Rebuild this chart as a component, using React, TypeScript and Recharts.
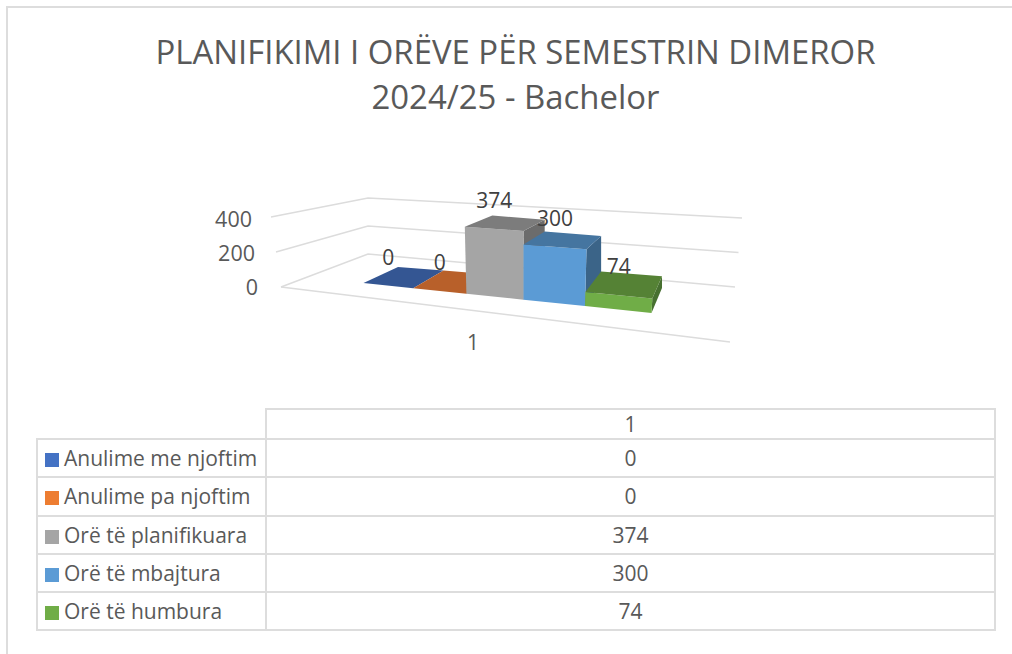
import React from 'react';
import { BarChart, Bar, XAxis, YAxis, CartesianGrid } from 'recharts';

const titleLines = ['PLANIFIKIMI I ORËVE PËR SEMESTRIN DIMEROR', '2024/25 - Bachelor'];
const categories = ['1'];
const seriesNames = ['Anulime me njoftim', 'Anulime pa njoftim', 'Orë të planifikuara', 'Orë të mbajtura', 'Orë të humbura'];
const seriesValues = [0, 0, 374, 300, 74];
const frontColors = ['#4472C4', '#ED7D31', '#A5A5A5', '#5B9BD5', '#70AD47'];
const topColors = ['#345693', '#B8602A', '#7C7C7C', '#4575A0', '#558235'];
const sideColors = ['#2A4779', '#964E20', '#6C6C6C', '#3B6488', '#477030'];
const axisTicks = [0, 200, 400];

const FONT = '"Open Sans", sans-serif';
const TEXT = '#595959';
const GRID = '#DCDCDC';

// flat plot box handed to Recharts; the scales' output is then projected to the 3D view
const PLOT = { left: 200, top: 100, width: 500, height: 400 };
const AXIS_MAX = 400;

const warp = (a: number) => a / (1 + 0.2 * (1 - a));
const lerp = (p: number, q: number, t: number) => p + (q - p) * t;

// a: 0..1 across the row of bars, depth: 0 front..1 back, frac: share of axis height
function project(a: number, depth: number, frac: number) {
  const w = warp(a);
  const fx = 363.5 + 288 * w;
  const fy = 283 + 30 * w;
  const bx = 398 + 264 * w;
  const by = 267 + 21 * w;
  const h = lerp(68 + 10 * w, 63, depth) * frac;
  const tilt = depth === 0 ? h * (w - 0.55) * 0.12 : 0;
  return [lerp(fx, bx, depth) + tilt, lerp(fy, by, depth) - h] as const;
}

const poly = (pts: ReadonlyArray<readonly [number, number]>) => pts.map((p) => `${p[0].toFixed(1)},${p[1].toFixed(1)}`).join(' ');

function makeShape(i: number) {
  return function Bar3D(props: any) {
    const { x, width, height, value } = props;
    const a1 = (x - PLOT.left) / PLOT.width;
    const a2 = (x + width - PLOT.left) / PLOT.width;
    const f = height / PLOT.height;
    const front = [project(a1, 0, f), project(a2, 0, f), project(a2, 0, 0), project(a1, 0, 0)];
    const top = [project(a1, 1, f), project(a2, 1, f), project(a2, 0, f), project(a1, 0, f)];
    const side = [project(a2, 0, f), project(a2, 1, f), project(a2, 1, 0), project(a2, 0, 0)];
    const lx = (front[0][0] + front[1][0]) / 2;
    const ly = (front[0][1] + front[1][1]) / 2 - 29;
    const v = Array.isArray(value) ? value[1] - value[0] : value;
    return (
      <g>
        <polygon points={poly(side)} fill={sideColors[i]} />
        <polygon points={poly(front)} fill={frontColors[i]} />
        <polygon points={poly(top)} fill={topColors[i]} />
        <text x={lx} y={ly} textAnchor="middle" dominantBaseline="central" fontFamily={FONT} fontSize={21} fill="#404040">{v}</text>
      </g>
    );
  };
}

const wallFront = (f: number) => [281 - 10 * f, 287 - 70 * f] as const;
const wallBack = (f: number) => [368, 254 - 56 * f] as const;
const wallRight = (f: number) => [735 + 7 * f, 287 - 69 * f] as const;
const floorFrontRight = [730, 342] as const;

function GridLine(props: any) {
  const f = (PLOT.top + PLOT.height - props.y1) / PLOT.height;
  const p1 = wallFront(f);
  const p2 = wallBack(f);
  const p3 = wallRight(f);
  return (
    <g key={props.key}>
      <polyline points={poly([p1, p2, p3])} fill="none" stroke={GRID} strokeWidth={1.5} />
      {f === 0 ? <polyline points={poly([p1, floorFrontRight])} fill="none" stroke={GRID} strokeWidth={1.5} /> : null}
    </g>
  );
}

function YTick(props: any) {
  const f = (PLOT.top + PLOT.height - props.y) / PLOT.height;
  const p = wallFront(f);
  return (
    <text x={p[0] - 23 + 4 * f} y={p[1] - 1 + 2 * f} textAnchor="end" dominantBaseline="central" fontFamily={FONT} fontSize={21.5} fill={TEXT}>
      {props.payload.value}
    </text>
  );
}

function XTick(props: any) {
  return (
    <text x={473} y={342} textAnchor="middle" dominantBaseline="central" fontFamily={FONT} fontSize={21} fill={TEXT}>
      {props.payload.value}
    </text>
  );
}

const chartData = categories.map((c) => {
  const row: Record<string, string | number> = { category: c };
  seriesNames.forEach((n, i) => { row[n] = seriesValues[i]; });
  return row;
});

const cell: React.CSSProperties = { border: '2px solid #DDDDDD', padding: 0, boxSizing: 'border-box', textAlign: 'center', verticalAlign: 'middle', lineHeight: '22px' };
const rowHeights = [38.4, 38.2, 38.2, 38.2, 37.6];

export default function App() {
  return (
    <div style={{ position: 'absolute', left: 0, top: 0, width: 1012, height: 654, overflow: 'hidden', background: '#fff' }}>
      <div style={{ position: 'absolute', left: 6, top: 6, width: 1100, height: 800, border: '2px solid #DDDDDD' }} />
      <div style={{ position: 'absolute', left: 0, top: 29, width: 1031, textAlign: 'center', fontFamily: FONT, fontSize: 32.9, lineHeight: '45px', color: TEXT }}>
        {titleLines.map((t) => <div key={t}>{t}</div>)}
      </div>
      <div style={{ position: 'absolute', left: 0, top: 0 }}>
        <BarChart
          width={1012}
          height={654}
          data={chartData}
          margin={{ left: PLOT.left - 1, top: PLOT.top, right: 1012 - PLOT.left - PLOT.width, bottom: 654 - PLOT.top - PLOT.height - 1 }}
          barCategoryGap={0}
          barGap={0}
        >
          <CartesianGrid vertical={false} horizontal={(p: any) => <GridLine {...p} />} syncWithTicks />
          <XAxis dataKey="category" height={1} axisLine={false} tickLine={false} tick={(p: any) => <XTick {...p} />} />
          <YAxis width={1} domain={[0, AXIS_MAX]} ticks={axisTicks} interval={0} axisLine={false} tickLine={false} tick={(p: any) => <YTick {...p} />} />
          {seriesNames.map((n, i) => (
            <Bar key={n} dataKey={n} isAnimationActive={false} shape={makeShape(i)} />
          ))}
        </BarChart>
      </div>
      <table style={{ position: 'absolute', left: 36, top: 408, width: 960, borderCollapse: 'collapse', tableLayout: 'fixed', fontFamily: FONT, fontSize: 21, color: TEXT }}>
        <colgroup><col style={{ width: 229 }} /><col /></colgroup>
        <tbody>
          <tr style={{ height: 30 }}>
            <td style={{ border: 'none', borderBottom: '2px solid #DDDDDD', padding: 0 }} />
            <td style={cell}>{categories[0]}</td>
          </tr>
          {seriesNames.map((n, i) => (
            <tr key={n} style={{ height: rowHeights[i] }}>
              <td style={{ ...cell, textAlign: 'left', whiteSpace: 'nowrap' }}>
                <span style={{ display: 'inline-block', width: 14, height: 14, marginLeft: 7, marginRight: 5, background: frontColors[i], verticalAlign: '-1px' }} />
                {n}
              </td>
              <td style={cell}>{seriesValues[i]}</td>
            </tr>
          ))}
        </tbody>
      </table>
    </div>
  );
}
